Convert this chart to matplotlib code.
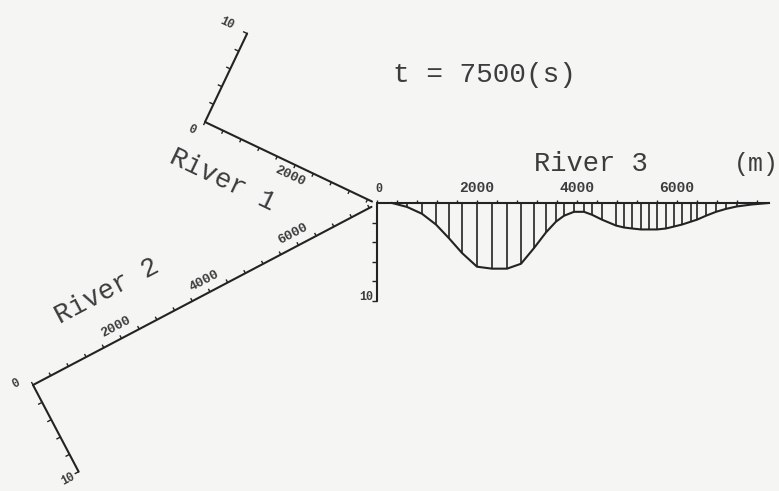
import numpy as np
import matplotlib.pyplot as plt
from matplotlib.transforms import Affine2D
from matplotlib.collections import LineCollection

# Reach lengths (m)
river1_length = 3700
river2_length = 7650
river3_length = 7840

# River 3 water depth profile at t = 7500 s (distance m, depth m)
river3_x = [300, 600, 900, 1180, 1440, 1700, 2000, 2300, 2600, 2880, 3140, 3380,
            3580, 3740, 3940, 4140, 4300, 4500, 4780, 4940, 5100, 5280, 5440,
            5600, 5780, 5940, 6100, 6280, 6400, 6580, 6780, 6980, 7200, 7500, 7840]
river3_depth = [0.0, 0.4, 1.1, 2.2, 3.6, 5.1, 6.5, 6.7, 6.7, 6.2, 4.6, 3.0,
                1.9, 1.3, 0.9, 0.9, 1.2, 1.7, 2.3, 2.5, 2.6, 2.7, 2.7,
                2.7, 2.6, 2.4, 2.2, 1.9, 1.7, 1.3, 0.9, 0.6, 0.35, 0.15, 0.0]

dist_tick_step = 400
depth_ticks = [2, 4, 6, 8, 10]
river1_labels = [2000]
river2_labels = [2000, 4000, 6000]
river3_labels = [2000, 4000, 6000]

M2PX = 0.05   # px per metre along the reach
D2PX = 9.8    # px per metre of depth

LINE = '#232323'
TEXT = '#3c3c3c'
FONT = 'Liberation Mono'

fig = plt.figure(figsize=(7.79, 4.91), dpi=100, facecolor='#f5f5f4')
ax = fig.add_axes([0, 0, 1, 1])
ax.set_xlim(0, 779)
ax.set_ylim(491, 0)
ax.axis('off')


def reach_transform(origin, angle, flip):
    sy = -D2PX if flip else D2PX
    return Affine2D().scale(M2PX, sy).rotate_deg(angle).translate(*origin) + ax.transData


def draw_reach(origin, angle, flip, length, labels, lab_d, lab_size, zero_pos, ten_pos):
    tr = reach_transform(origin, angle, flip)
    # reach axis and depth axis
    ax.plot([0, length], [0, 0], color=LINE, lw=1.5, transform=tr, solid_capstyle='round')
    ax.plot([0, 0], [0, 10], color=LINE, lw=1.5, transform=tr, solid_capstyle='round')
    segs = [[(s, 0), (s, -0.35)] for s in np.arange(0, length + 1, dist_tick_step)]
    segs += [[(0, d), (-90, d)] for d in depth_ticks]
    ax.add_collection(LineCollection(segs, colors=LINE, linewidths=1.0, transform=tr))
    rot = -angle
    for v in labels:
        ax.text(v, lab_d, str(v), transform=tr, rotation=rot, rotation_mode='anchor',
                ha='center', va='center', fontsize=lab_size, family=FONT, color=TEXT,
                fontweight='bold')
    ax.text(*zero_pos, '0', transform=tr, rotation=rot, rotation_mode='anchor',
            ha='center', va='center', fontsize=8.5, family=FONT, color=TEXT, fontweight='bold')
    ax.text(*ten_pos, '10', transform=tr, rotation=rot, rotation_mode='anchor',
            ha='center', va='center', fontsize=8.5, family=FONT, color=TEXT, fontweight='bold')
    return tr


# River 1 (upstream end at top left, flows to the junction)
tr1 = draw_reach((205, 122), 25.46, True, river1_length, river1_labels, -1.3, 9.5,
                 (-170, -1.3), (-460, 10.0))
ax.text(820, -4.6, 'River 1', transform=tr1, rotation=-25.46, rotation_mode='anchor',
        ha='center', va='center', fontsize=19.5, family=FONT, color=TEXT)

# River 2 (upstream end at bottom left)
tr2 = draw_reach((33, 385), -27.76, False, river2_length, river2_labels, -1.3, 9.5,
                 (-280, -0.9), (-260, 10.2))
ax.text(2180, -5.0, 'River 2', transform=tr2, rotation=27.76, rotation_mode='anchor',
        ha='center', va='center', fontsize=19.5, family=FONT, color=TEXT)

# River 3 (downstream of the junction) with its depth profile
tr3 = draw_reach((377, 203), 0, False, river3_length, river3_labels, -1.5, 10.5,
                 (40, -1.4), (-220, 9.6))
ax.plot(river3_x, river3_depth, color=LINE, lw=1.5, transform=tr3)
hatch = [[(x, 0), (x, d)] for x, d in zip(river3_x, river3_depth) if d > 0.2]
ax.add_collection(LineCollection(hatch, colors=LINE, linewidths=1.2, transform=tr3))
ax.text(4280, -4.0, 'River 3', transform=tr3, ha='center', va='center',
        fontsize=19.5, family=FONT, color=TEXT)
ax.text(779, 164, '(m)', ha='right', va='center', fontsize=18, family=FONT, color=TEXT)

ax.text(484, 75, 't = 7500(s)', ha='center', va='center', fontsize=20,
        family=FONT, color=TEXT)

fig.savefig('out.png', dpi=100, facecolor=fig.get_facecolor())
